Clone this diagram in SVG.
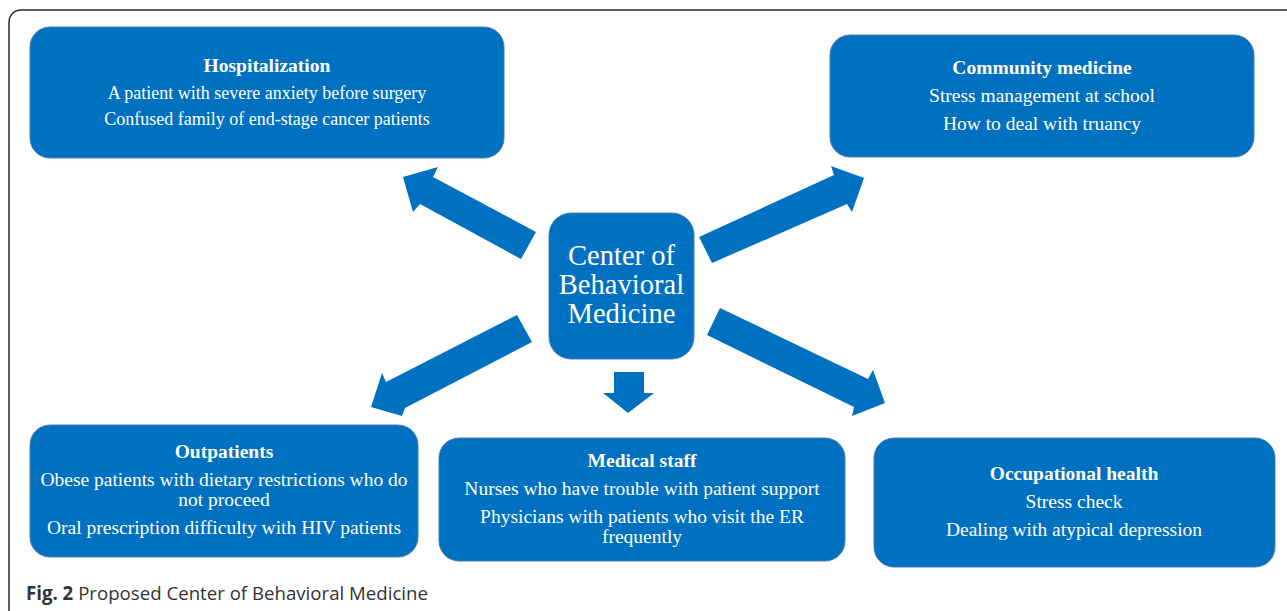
<svg xmlns="http://www.w3.org/2000/svg" width="1287" height="611" viewBox="0 0 1287 611">
<style>
.box{fill:#0070c0;stroke:#4c7fb0;stroke-width:1}
.t{font-family:"Liberation Serif","Times New Roman",serif;font-size:19.5px;fill:#ffffff;text-anchor:middle}
.s{font-size:18px}
.b{font-weight:bold}
.c{font-family:"Liberation Serif","Times New Roman",serif;font-size:28.6px;fill:#ffffff;text-anchor:middle}
.arrow{fill:#0070c0}
.cap{font-family:"Open Sans","Liberation Sans",sans-serif;font-size:19px;fill:#333333}
</style>
<rect x="9" y="10" width="1295" height="612" rx="12" fill="#ffffff" stroke="#2a2a2a" stroke-width="1.5"/>
<g id="connectors">
<polygon class="arrow" points="403,177 438,167 433,177 536,232 521,259 420,204 413,212"/>
<polygon class="arrow" points="712,263 699,237 834,175 831,166 864,178 852,212 847,204"/>
<polygon class="arrow" points="517,315 532,342 405,408 402,416 371,407 382,373 386,382"/>
<polygon class="arrow" points="720,308 707,335 854,407 852,416 885,403 873,370 868,379"/>
<polygon class="arrow" points="614,372 644,372 644,393 654,393 628,413 603,393 614,393"/>
</g>
<g id="hospitalization">
<rect class="box" x="30" y="27" width="474" height="131" rx="20"/>
<text class="t b" x="267" y="72">Hospitalization</text>
<text class="t s" x="267" y="99">A patient with severe anxiety before surgery</text>
<text class="t s" x="267" y="125">Confused family of end-stage cancer patients</text>
</g>
<g id="community">
<rect class="box" x="830" y="35" width="424" height="122" rx="20"/>
<text class="t b" x="1042" y="74">Community medicine</text>
<text class="t" x="1042" y="102">Stress management at school</text>
<text class="t" x="1042" y="130">How to deal with truancy</text>
</g>
<g id="center">
<rect class="box" x="549" y="213" width="145" height="146" rx="22"/>
<text class="c" x="621.5" y="265">Center of</text>
<text class="c" x="621.5" y="294">Behavioral</text>
<text class="c" x="621.5" y="323">Medicine</text>
</g>
<g id="outpatients">
<rect class="box" x="30" y="425" width="388" height="132" rx="20"/>
<text class="t b" x="224" y="458">Outpatients</text>
<text class="t" x="224" y="486">Obese patients with dietary restrictions who do</text>
<text class="t" x="224" y="506">not proceed</text>
<text class="t" x="224" y="534">Oral prescription difficulty with HIV patients</text>
</g>
<g id="medical-staff">
<rect class="box" x="439" y="438" width="406" height="123" rx="20"/>
<text class="t b" x="642" y="467">Medical staff</text>
<text class="t" x="642" y="495">Nurses who have trouble with patient support</text>
<text class="t" x="642" y="523">Physicians with patients who visit the ER</text>
<text class="t" x="642" y="543">frequently</text>
</g>
<g id="occupational">
<rect class="box" x="874" y="438" width="401" height="129" rx="20"/>
<text class="t b" x="1074" y="480">Occupational health</text>
<text class="t" x="1074" y="508">Stress check</text>
<text class="t" x="1074" y="536">Dealing with atypical depression</text>
</g>
<text class="cap" x="26" y="600" textLength="402" lengthAdjust="spacingAndGlyphs"><tspan font-weight="bold">Fig. 2</tspan> Proposed Center of Behavioral Medicine</text>
</svg>
